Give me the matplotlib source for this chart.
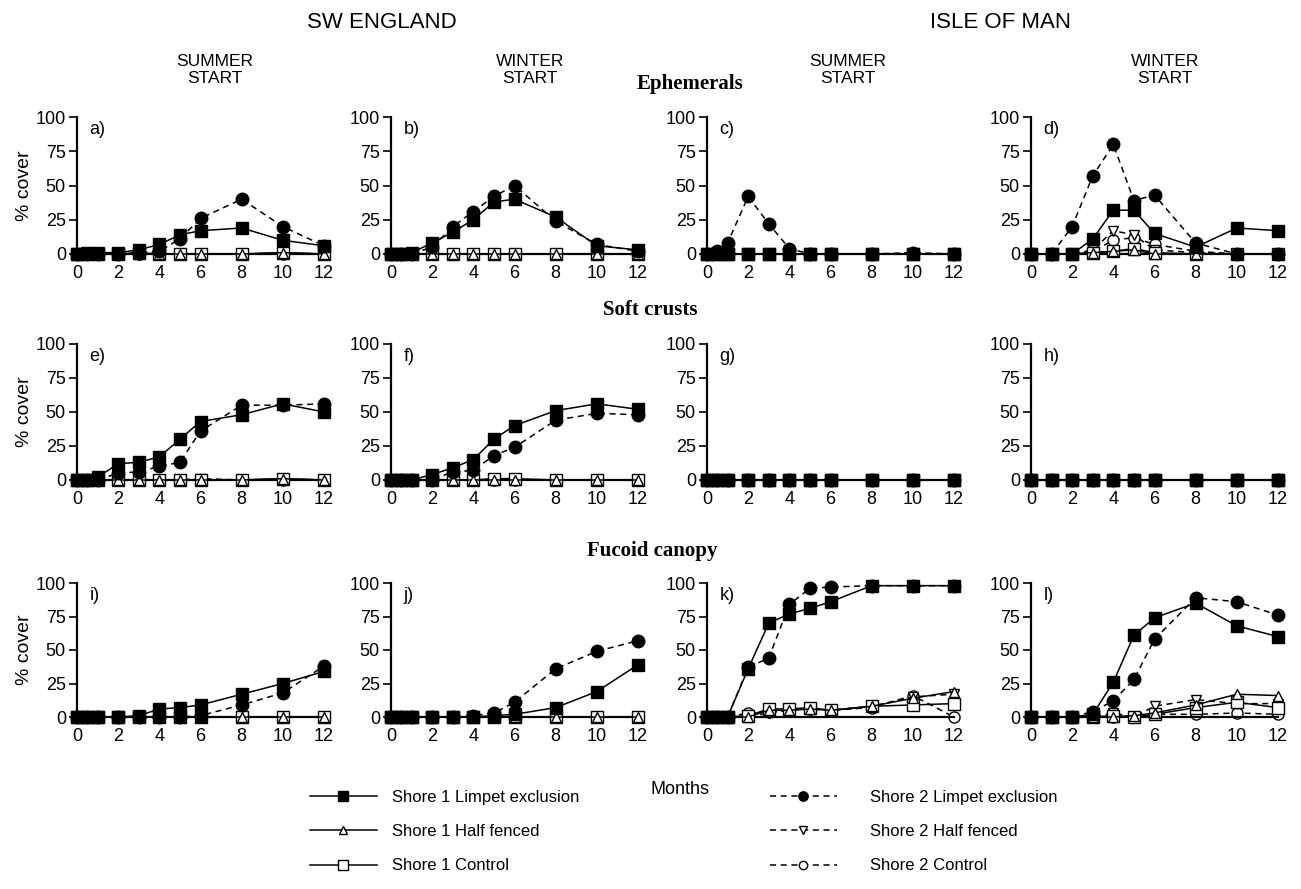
import matplotlib.pyplot as plt
from matplotlib.lines import Line2D

plt.rcParams['font.family'] = ['Liberation Sans', 'DejaVu Sans']

# sampling months
months_sw = [0, 0.5, 1, 2, 3, 4, 5, 6, 8, 10, 12]
months_iom_w = [0, 1, 2, 3, 4, 5, 6, 8, 10, 12]

# Ephemerals
a_s1_excl = [0, 1, 1, 1, 3, 7, 14, 17, 19, 10, 6]
a_s1_half = [0, 0, 0, 0, 0, 0, 0, 0, 0, 1, 0]
a_s1_ctrl = [0, 0, 0, 0, 1, 0, 0, 0, 0, 1, 0]
a_s2_excl = [0, 0, 0, 0, 1, 2, 11, 26, 40, 20, 6]
a_s2_half = [0, 0, 0, 0, 0, 0, 0, 0, 0, 0, 0]
a_s2_ctrl = [0, 0, 0, 0, 0, 0, 0, 0, 0, 0, 0]

b_s1_excl = [0, 0, 1, 8, 16, 25, 38, 40, 27, 6, 3]
b_s1_half = [0, 0, 0, 0, 0, 0, 0, 0, 0, 0, 0]
b_s1_ctrl = [0, 0, 0, 0, 0, 0, 0, 0, 0, 0, 0]
b_s2_excl = [0, 0, 0, 5, 20, 31, 42, 50, 24, 7, 2]
b_s2_half = [0, 0, 0, 0, 0, 0, 0, 0, 0, 0, 0]
b_s2_ctrl = [0, 0, 0, 0, 0, 0, 0, 0, 0, 0, 0]

c_s1_excl = [0, 0, 0, 0, 0, 0, 0, 0, 0, 0, 0]
c_s1_half = [0, 0, 0, 0, 0, 0, 0, 0, 0, 0, 0]
c_s1_ctrl = [0, 0, 0, 0, 0, 0, 0, 0, 0, 0, 0]
c_s2_excl = [0, 2, 8, 42, 22, 4, 0, 0, 0, 1, 0]
c_s2_half = [0, 0, 0, 0, 0, 0, 0, 0, 0, 0, 0]
c_s2_ctrl = [0, 0, 0, 0, 0, 0, 0, 0, 0, 0, 0]

d_s1_excl = [0, 0, 0, 11, 32, 32, 15, 5, 19, 17]
d_s1_half = [0, 0, 0, 1, 2, 3, 0, 0, 0, 0]
d_s1_ctrl = [0, 0, 0, 1, 2, 4, 1, 0, 0, 0]
d_s2_excl = [0, 0, 20, 57, 80, 39, 43, 8, 0, 0]
d_s2_half = [0, 0, 0, 3, 17, 14, 3, 1, 0, 0]
d_s2_ctrl = [0, 0, 0, 2, 10, 12, 7, 2, 0, 0]

# Soft crusts
e_s1_excl = [0, 0, 2, 12, 13, 17, 30, 43, 48, 56, 50]
e_s1_half = [0, 0, 0, 0, 0, 0, 0, 0, 0, 1, 0]
e_s1_ctrl = [0, 0, 0, 0, 0, 0, 0, 0, 0, 1, 0]
e_s2_excl = [0, 0, 0, 5, 6, 10, 13, 36, 55, 55, 56]
e_s2_half = [0, 0, 0, 0, 0, 0, 0, 1, 0, 0, 0]
e_s2_ctrl = [0, 0, 0, 0, 0, 0, 0, 0, 0, 0, 0]

f_s1_excl = [0, 0, 0, 4, 9, 15, 30, 40, 51, 56, 52]
f_s1_half = [0, 0, 0, 0, 0, 0, 0, 0, 0, 0, 0]
f_s1_ctrl = [0, 0, 0, 0, 0, 0, 1, 1, 0, 0, 0]
f_s2_excl = [0, 0, 0, 0, 6, 7, 18, 24, 44, 49, 48]
f_s2_half = [0, 0, 0, 0, 0, 0, 0, 0, 0, 0, 0]
f_s2_ctrl = [0, 0, 0, 0, 0, 0, 0, 0, 0, 0, 0]

g_s1_excl = [0, 0, 0, 0, 0, 0, 0, 0, 0, 0, 0]
g_s1_half = [0, 0, 0, 0, 0, 0, 0, 0, 0, 0, 0]
g_s1_ctrl = [0, 0, 0, 0, 0, 0, 0, 0, 0, 0, 0]
g_s2_excl = [0, 0, 0, 0, 0, 0, 0, 0, 0, 0, 0]
g_s2_half = [0, 0, 0, 0, 0, 0, 0, 0, 0, 0, 0]
g_s2_ctrl = [0, 0, 0, 0, 0, 0, 0, 0, 0, 0, 0]

h_s1_excl = [0, 0, 0, 0, 0, 0, 0, 0, 0, 0]
h_s1_half = [0, 0, 0, 0, 0, 0, 0, 0, 0, 0]
h_s1_ctrl = [0, 0, 0, 0, 0, 0, 0, 0, 0, 0]
h_s2_excl = [0, 0, 0, 0, 0, 0, 0, 0, 0, 0]
h_s2_half = [0, 0, 0, 0, 0, 0, 0, 0, 0, 0]
h_s2_ctrl = [0, 0, 0, 0, 0, 0, 0, 0, 0, 0]

# Fucoid canopy
i_s1_excl = [0, 0, 0, 0, 1, 6, 7, 9, 17, 25, 34]
i_s1_half = [0, 0, 0, 0, 0, 0, 0, 0, 0, 0, 0]
i_s1_ctrl = [0, 0, 0, 0, 0, 0, 0, 0, 0, 0, 0]
i_s2_excl = [0, 0, 0, 0, 0, 0, 0, 1, 9, 18, 38]
i_s2_half = [0, 0, 0, 0, 0, 0, 0, 0, 0, 0, 0]
i_s2_ctrl = [0, 0, 0, 0, 0, 0, 0, 0, 0, 0, 0]

j_s1_excl = [0, 0, 0, 0, 0, 0, 1, 2, 7, 19, 39]
j_s1_half = [0, 0, 0, 0, 0, 0, 0, 0, 0, 0, 0]
j_s1_ctrl = [0, 0, 0, 0, 0, 0, 0, 0, 0, 0, 0]
j_s2_excl = [0, 0, 0, 0, 0, 1, 3, 11, 36, 49, 57]
j_s2_half = [0, 0, 0, 0, 0, 0, 0, 0, 0, 0, 0]
j_s2_ctrl = [0, 0, 0, 0, 0, 0, 0, 0, 0, 0, 0]

k_s1_excl = [0, 0, 0, 36, 70, 77, 81, 86, 98, 98, 98]
k_s1_half = [0, 0, 0, 0, 5, 5, 6, 5, 8, 14, 19]
k_s1_ctrl = [0, 0, 0, 1, 6, 6, 7, 5, 8, 9, 10]
k_s2_excl = [0, 0, 0, 37, 44, 84, 96, 97, 98, 98, 98]
k_s2_half = [0, 0, 0, 0, 3, 5, 6, 5, 8, 15, 17]
k_s2_ctrl = [0, 0, 0, 3, 4, 5, 6, 5, 7, 16, 0]

l_s1_excl = [0, 0, 0, 2, 26, 61, 74, 85, 68, 60]
l_s1_half = [0, 0, 0, 0, 0, 1, 3, 9, 17, 16]
l_s1_ctrl = [0, 0, 0, 0, 1, 0, 2, 7, 11, 7]
l_s2_excl = [0, 0, 0, 4, 12, 28, 58, 89, 86, 76]
l_s2_half = [0, 0, 0, 0, 3, 0, 8, 13, 10, 10]
l_s2_ctrl = [0, 0, 0, 0, 0, 0, 2, 2, 3, 2]

panels = [
    ('a)', months_sw, [a_s1_excl, a_s1_half, a_s1_ctrl, a_s2_excl, a_s2_half, a_s2_ctrl]),
    ('b)', months_sw, [b_s1_excl, b_s1_half, b_s1_ctrl, b_s2_excl, b_s2_half, b_s2_ctrl]),
    ('c)', months_sw, [c_s1_excl, c_s1_half, c_s1_ctrl, c_s2_excl, c_s2_half, c_s2_ctrl]),
    ('d)', months_iom_w, [d_s1_excl, d_s1_half, d_s1_ctrl, d_s2_excl, d_s2_half, d_s2_ctrl]),
    ('e)', months_sw, [e_s1_excl, e_s1_half, e_s1_ctrl, e_s2_excl, e_s2_half, e_s2_ctrl]),
    ('f)', months_sw, [f_s1_excl, f_s1_half, f_s1_ctrl, f_s2_excl, f_s2_half, f_s2_ctrl]),
    ('g)', months_sw, [g_s1_excl, g_s1_half, g_s1_ctrl, g_s2_excl, g_s2_half, g_s2_ctrl]),
    ('h)', months_iom_w, [h_s1_excl, h_s1_half, h_s1_ctrl, h_s2_excl, h_s2_half, h_s2_ctrl]),
    ('i)', months_sw, [i_s1_excl, i_s1_half, i_s1_ctrl, i_s2_excl, i_s2_half, i_s2_ctrl]),
    ('j)', months_sw, [j_s1_excl, j_s1_half, j_s1_ctrl, j_s2_excl, j_s2_half, j_s2_ctrl]),
    ('k)', months_sw, [k_s1_excl, k_s1_half, k_s1_ctrl, k_s2_excl, k_s2_half, k_s2_ctrl]),
    ('l)', months_iom_w, [l_s1_excl, l_s1_half, l_s1_ctrl, l_s2_excl, l_s2_half, l_s2_ctrl]),
]

labels = ['Shore 1 Limpet exclusion', 'Shore 1 Half fenced', 'Shore 1 Control',
          'Shore 2 Limpet exclusion', 'Shore 2 Half fenced', 'Shore 2 Control']
# linestyle, marker, face, size, zorder
styles = [
    ('-', 's', 'black', 9, 7),
    ('-', '^', 'white', 7, 5),
    ('-', 's', 'white', 9, 4),
    ((0, (4, 3)), 'o', 'black', 9, 6),
    ((0, (4, 3)), 'v', 'white', 7, 3),
    ((0, (4, 3)), 'o', 'white', 8, 2),
]

W, H = 1301, 889
fig = plt.figure(figsize=(W / 100, H / 100), dpi=100)

col_left = [77, 391, 707, 1031]
ax_w = 247
row_top = [117, 344, 583]
row_bot = [254, 480, 717]

for n, (lab, months, series) in enumerate(panels):
    r, c = divmod(n, 4)
    ax = fig.add_axes([col_left[c] / W, 1 - row_bot[r] / H, ax_w / W,
                       (row_bot[r] - row_top[r]) / H])
    for vals, (ls, mk, fc, ms, z) in zip(series, styles):
        ax.plot(months, vals, linestyle=ls, marker=mk, color='black', mfc=fc,
                mec='black', ms=ms, lw=1.1, mew=1.0, zorder=z, clip_on=False)
    ax.set_xlim(0, 12)
    ax.set_ylim(0, 100)
    ax.set_xticks(range(0, 13, 2))
    ax.set_yticks([0, 25, 50, 75, 100])
    for s in ['top', 'right']:
        ax.spines[s].set_visible(False)
    ax.spines['left'].set_linewidth(1.6)
    ax.spines['bottom'].set_linewidth(1.6)
    ax.tick_params(axis='y', length=6, width=1.2, labelsize=13, pad=2)
    ax.tick_params(axis='x', length=0, labelsize=13, pad=8)
    ax.text(0.05, 0.97, lab, transform=ax.transAxes, fontsize=13, va='top')
    if c == 0:
        ax.set_ylabel('% cover', fontsize=14, labelpad=2)

# headings
fig.text(382 / W, 1 - 22 / H, 'SW ENGLAND', fontsize=16, ha='center', va='center')
fig.text(1000 / W, 1 - 22 / H, 'ISLE OF MAN', fontsize=16, ha='center', va='center')
for x, t in [(215, 'SUMMER\nSTART'), (530, 'WINTER\nSTART'),
             (848, 'SUMMER\nSTART'), (1165, 'WINTER\nSTART')]:
    fig.text(x / W, 1 - 70 / H, t, fontsize=12.5, ha='center', va='center',
             linespacing=1.2)
serif = ['Liberation Serif', 'DejaVu Serif']
fig.text(690 / W, 1 - 84 / H, 'Ephemerals', fontsize=15, fontweight='bold',
         family=serif, ha='center', va='center')
fig.text(650 / W, 1 - 310 / H, 'Soft crusts', fontsize=15, fontweight='bold',
         family=serif, ha='center', va='center')
fig.text(652 / W, 1 - 551 / H, 'Fucoid canopy', fontsize=15, fontweight='bold',
         family=serif, ha='center', va='center')
fig.text(680 / W, 1 - 790 / H, 'Months', fontsize=13, ha='center', va='center')

# legend
handles = []
for (ls, mk, fc, ms, z), lab in zip(styles, labels):
    handles.append(Line2D([], [], linestyle=ls, marker=mk, color='black', mfc=fc,
                          mec='black', ms=ms * 0.75, lw=1.1, label=lab))
leg1 = fig.legend(handles=handles[:3], loc='upper left',
                  bbox_to_anchor=(310 / W, 1 - 790 / H), frameon=False,
                  fontsize=12, handlelength=4.0, handletextpad=0.9,
                  labelspacing=1.15, borderpad=0, borderaxespad=0)
leg2 = fig.legend(handles=handles[3:], loc='upper left',
                  bbox_to_anchor=(770 / W, 1 - 790 / H), frameon=False,
                  fontsize=12, handlelength=4.0, handletextpad=2.0,
                  labelspacing=1.15, borderpad=0, borderaxespad=0)

fig.savefig('out.png', dpi=100)
